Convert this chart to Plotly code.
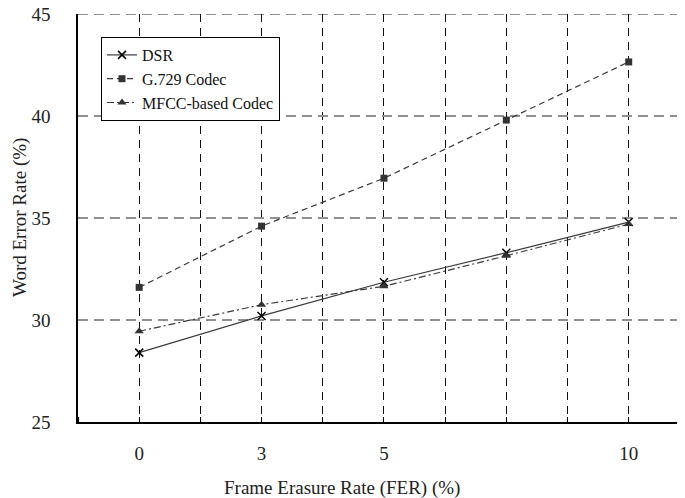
import plotly.graph_objects as go

# Data
fer_labels = ["0", "3", "5", "", "10"]
fer_pos = [0, 2, 4, 6, 8]
dsr = [28.4, 30.2, 31.85, 33.3, 34.8]
g729 = [31.6, 34.6, 36.95, 39.8, 42.65]
mfcc = [29.45, 30.75, 31.65, 33.15, 34.7]
y_ticks = [25, 30, 35, 40, 45]

FONT = "Liberation Serif, DejaVu Serif, serif"
LC = "#3a3a3a"

# page has an 8px body margin; figure sized/placed to compensate
W, H = 677, 490
L, T, B = 70, 6, 76
PW, PH = W - L, H - T - B

fig = go.Figure()
fig.add_trace(go.Scatter(
    x=fer_pos, y=dsr, name="DSR", mode="lines+markers",
    line=dict(color=LC, width=1.2, dash="solid"),
    marker=dict(symbol="x-thin", size=8, line=dict(color="#000", width=1.5), color="#000")))
fig.add_trace(go.Scatter(
    x=fer_pos, y=g729, name="G.729 Codec", mode="lines+markers",
    line=dict(color=LC, width=1.2, dash="6px,4px"),
    marker=dict(symbol="square", size=7, color="#333")))
fig.add_trace(go.Scatter(
    x=fer_pos, y=mfcc, name="MFCC-based Codec", mode="lines+markers",
    line=dict(color=LC, width=1.2, dash="7px,3px,2px,3px"),
    marker=dict(symbol="triangle-up", size=8, color="#333")))

fig.add_shape(type="line", xref="paper", yref="y", x0=0, x1=1, y0=y_ticks[-1], y1=y_ticks[-1],
              line=dict(color="#909090", width=2, dash="10px,6px"), layer="below")

fig.update_layout(
    width=W, height=H,
    margin=dict(l=L, r=0, t=T, b=B, pad=0, autoexpand=False),
    paper_bgcolor="white", plot_bgcolor="white",
    font=dict(family=FONT, size=17, color="#222"),
    showlegend=True,
    legend=dict(
        x=(93 - L) / PW, y=1 - (29 - T) / PH, xanchor="left", yanchor="top",
        bgcolor="white", bordercolor="#000", borderwidth=1,
        font=dict(family=FONT, size=16, color="#111"),
        tracegroupgap=0, itemwidth=30,
    ),
    xaxis=dict(
        range=[-1, 8.92], tickmode="array", automargin=False,
        tickvals=[p for p, l in zip(fer_pos, fer_labels) if l],
        ticktext=[l for l in fer_labels if l],
        showgrid=False, zeroline=False,
        showline=True, linecolor="#000", linewidth=1.5,
        ticks="", ticklabelstandoff=13,
        minor=dict(dtick=1, tick0=0, showgrid=True, gridcolor="#111",
                   griddash="8px,6px", gridwidth=1, ticks="inside", ticklen=5,
                   tickcolor="#000"),
        tickfont=dict(family=FONT, size=19, color="#222"),
    ),
    yaxis=dict(
        range=[25, 45], tickvals=y_ticks, automargin=False,
        showgrid=True, gridcolor="#909090", gridwidth=2, griddash="10px,6px",
        zeroline=False, showline=True, linecolor="#000", linewidth=1.5,
        ticks="", ticklabelstandoff=22, ticklabeloverflow="allow",
        tickfont=dict(family=FONT, size=19, color="#222"),
    ),
    annotations=[
        dict(text="Frame Erasure Rate (FER) (%)", xref="paper", yref="paper",
             x=(334 - L) / PW, y=-(480 - (T + PH)) / PH, xanchor="center", yanchor="middle",
             showarrow=False, font=dict(family=FONT, size=19, color="#222")),
        dict(text="Word Error Rate (%)", xref="paper", yref="paper",
             x=-(L - 12) / PW, y=0.5, xanchor="center", yanchor="middle",
             textangle=-90, showarrow=False, font=dict(family=FONT, size=19, color="#222")),
    ],
)

fig.write_html("out.html")
